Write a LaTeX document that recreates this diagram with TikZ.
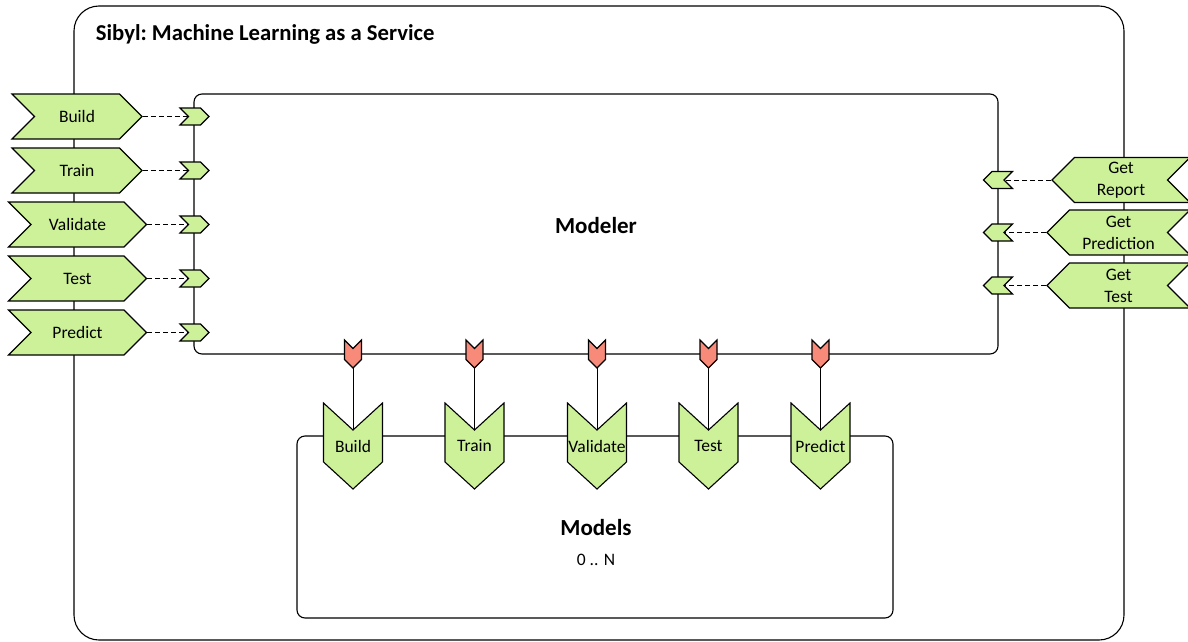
\documentclass[tikz,border=0pt]{standalone}
\usepackage{fontspec}
\setmainfont{Carlito}
\usetikzlibrary{shapes.symbols,backgrounds}

\definecolor{opgreen}{RGB}{205,241,153}
\definecolor{portred}{RGB}{248,138,122}

\begin{document}
\begin{tikzpicture}[x=1pt,y=-1pt, line width=1.1pt,
 box/.style={draw, rounded corners=8pt, inner sep=0pt},
 txt/.style={font=\fontsize{17.5}{22}\selectfont, align=center},
 head/.style={font=\fontsize{23}{28}\selectfont\bfseries},
 opin/.style={shape=signal, signal to=east, signal from=west, draw, fill=opgreen,
   minimum height=45pt, inner sep=0pt, txt},
 opout/.style={shape=signal, signal to=west, signal from=east, draw, fill=opgreen,
   minimum height=45pt, inner sep=0pt, txt},
 opdown/.style={shape=signal, signal to=south, signal from=north, draw, fill=opgreen,
   signal pointer angle=95, text width=59pt, minimum height=86pt, inner sep=0pt, txt},
 pin/.style={shape=signal, signal to=east, signal from=west, draw, fill=opgreen,
   minimum width=29pt, minimum height=17pt, inner sep=0pt},
 pout/.style={shape=signal, signal to=west, signal from=east, draw, fill=opgreen,
   minimum width=29pt, minimum height=17pt, inner sep=0pt},
 pdown/.style={shape=signal, signal to=south, signal from=north, draw, fill=portred,
   text width=17pt, minimum height=28pt, inner sep=0pt},
 link/.style={dashed, dash pattern=on 5pt off 3pt}]

 \useasboundingbox (0,0) rectangle (1188,642);

 % outer service box
 \node (sibyl) at (599,323) [box, rounded corners=25pt, minimum width=1050pt, minimum height=634pt] {};
 \node (title) at (92,34) [anchor=west, font=\fontsize{22.7}{27}\selectfont\bfseries] {Sibyl:\ Machine Learning as a Service};

 % modeler and models
 \node (modeler) at (596,224) [box, minimum width=804pt, minimum height=260pt] {};
 \node (modelertxt) at (596,226) [head] {Modeler};
 \node (models) at (595,527) [box, minimum width=596pt, minimum height=182pt] {};
 \node (modelstxt) at (596,528) [head] {Models};
 \node (count) at (596,560) [txt] {0 .. N};

 % operations in
 \node (build) at (77,116.5) [opin, minimum width=130pt] {Build};
 \node (train) at (77,170.5) [opin, minimum width=130pt] {Train};
 \node (validate) at (77.5,224.5) [opin, minimum width=138pt] {Validate};
 \node (test) at (77.5,278.5) [opin, minimum width=138pt] {Test};
 \node (predict) at (77.5,332.5) [opin, minimum width=138pt] {Predict};

 \node (pbuild) at (194.5,116.5) [pin] {};
 \node (ptrain) at (194.5,170.5) [pin] {};
 \node (pvalidate) at (194.5,224.5) [pin] {};
 \node (ptest) at (194.5,278.5) [pin] {};
 \node (ppredict) at (194.5,332.5) [pin] {};

 % operations out
 \node (report) at (1121,180) [opout, minimum width=138pt] {Get\\Report};
 \node (prediction) at (1118.5,232.5) [opout, minimum width=143pt] {Get\\Prediction};
 \node (gettest) at (1118.5,285.5) [opout, minimum width=143pt] {Get\\Test};

 \node (preport) at (998,180) [pout] {};
 \node (pprediction) at (998,232.5) [pout] {};
 \node (pgettest) at (998,285.5) [pout] {};

 % calls into models
 \node (rbuild) at (353,354) [pdown] {};
 \node (rtrain) at (474.5,354) [pdown] {};
 \node (rvalidate) at (597,354) [pdown] {};
 \node (rtest) at (708.5,354) [pdown] {};
 \node (rpredict) at (820.5,354) [pdown] {};

 \node (mbuild) at (353,446) [opdown] {Build};
 \node (mtrain) at (474.5,446) [opdown] {Train};
 \node (mvalidate) at (597,446) [opdown] {Validate};
 \node (mtest) at (708.5,446) [opdown] {Test};
 \node (mpredict) at (820.5,446) [opdown] {Predict};

 \begin{scope}[on background layer]
 \draw[link] (build.east) -- (pbuild.center);
 \draw[link] (train.east) -- (ptrain.center);
 \draw[link] (validate.east) -- (pvalidate.center);
 \draw[link] (test.east) -- (ptest.center);
 \draw[link] (predict.east) -- (ppredict.center);

 \draw[link] (report.west) -- (preport.center);
 \draw[link] (prediction.west) -- (pprediction.center);
 \draw[link] (gettest.west) -- (pgettest.center);

 \draw (rbuild.center) -- (mbuild.center);
 \draw (rtrain.center) -- (mtrain.center);
 \draw (rvalidate.center) -- (mvalidate.center);
 \draw (rtest.center) -- (mtest.center);
 \draw (rpredict.center) -- (mpredict.center);
 \end{scope}
\end{tikzpicture}
\end{document}
